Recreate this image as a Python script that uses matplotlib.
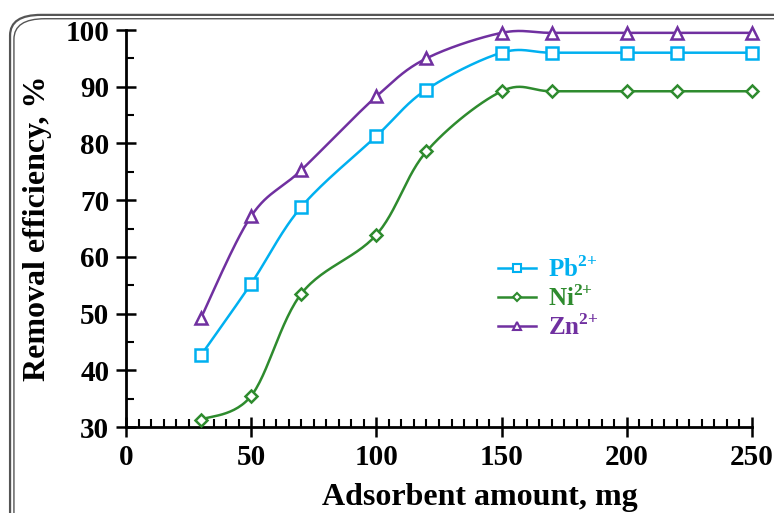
import matplotlib

matplotlib.use("Agg")
import matplotlib.pyplot as plt
import numpy as np
from matplotlib.lines import Line2D
from matplotlib.patches import FancyBboxPatch
from matplotlib.ticker import MultipleLocator

plt.rcParams["font.family"] = ["Liberation Serif", "DejaVu Serif"]
plt.rcParams["font.weight"] = "bold"
plt.rcParams["mathtext.fontset"] = "custom"
plt.rcParams["mathtext.rm"] = "Liberation Serif:bold"
plt.rcParams["mathtext.bf"] = "Liberation Serif:bold"

amount_mg = [30, 50, 70, 100, 120, 150, 170, 200, 220, 250]
pb_eff = [42.7, 55.3, 68.8, 81.3, 89.5, 96.0, 96.0, 96.0, 96.0, 96.0]
ni_eff = [31.3, 35.5, 53.5, 63.9, 78.6, 89.2, 89.2, 89.2, 89.2, 89.2]
zn_eff = [49.3, 67.2, 75.3, 88.3, 95.0, 99.5, 99.5, 99.5, 99.5, 99.5]

series = [
    ("Pb", pb_eff, "#00B0F0", "s", 9),
    ("Ni", ni_eff, "#2E8B2E", "D", 6),
    ("Zn", zn_eff, "#7030A0", "^", 9),
]


def smooth(x, y, n=30):
    # Catmull-Rom style smoothing, like a spreadsheet "smoothed line"
    p = np.column_stack([x, y]).astype(float)
    pts = [p[0]]
    for i in range(len(p) - 1):
        p0 = p[i - 1] if i > 0 else p[i]
        p3 = p[i + 2] if i + 2 < len(p) else p[i + 1]
        p1, p2 = p[i], p[i + 1]
        c1 = p1 + (p2 - p0) / 6.0
        c2 = p2 - (p3 - p1) / 6.0
        t = np.linspace(0, 1, n)[1:, None]
        seg = (1 - t) ** 3 * p1 + 3 * (1 - t) ** 2 * t * c1 + 3 * (1 - t) * t ** 2 * c2 + t ** 3 * p2
        pts.extend(seg)
    pts = np.array(pts)
    return pts[:, 0], pts[:, 1]


fig = plt.figure(figsize=(7.74, 5.13), dpi=100)

# rounded double frame around the figure
for pad, lw in [(0.0, 1.6), (0.005, 1.0)]:
    frame = FancyBboxPatch((0.013 + pad, -0.1), 1.1, 1.071 - pad * 1.5,
                           boxstyle="round,pad=0,rounding_size=0.04",
                           transform=fig.transFigure, fill=False,
                           edgecolor="#555555", linewidth=lw, zorder=0)
    fig.patches.append(frame)

ax = fig.add_axes([0.1628, 0.1676, 0.8088, 0.7739])

handles = []
for name, vals, color, marker, ms in series:
    xs, ys = smooth(amount_mg, vals)
    ax.plot(xs, ys, color=color, linewidth=1.8, clip_on=False, zorder=2)
    ax.plot(amount_mg, vals, linestyle="none", marker=marker, markersize=ms,
            markerfacecolor="white", markeredgecolor=color, markeredgewidth=1.8,
            clip_on=False, zorder=3)
    handles.append(Line2D([], [], color=color, linewidth=1.8, marker=marker,
                          markersize=ms * 0.65, markerfacecolor="white",
                          markeredgecolor=color, markeredgewidth=1.5))

ax.set_xlim(0, 250)
ax.set_ylim(30, 100)
ax.xaxis.set_major_locator(MultipleLocator(50))
ax.xaxis.set_minor_locator(MultipleLocator(5))
ax.yaxis.set_major_locator(MultipleLocator(10))
ax.yaxis.set_minor_locator(MultipleLocator(5))

for side in ["top", "right"]:
    ax.spines[side].set_visible(False)
for side in ["left", "bottom"]:
    ax.spines[side].set_linewidth(2.0)

ax.tick_params(which="major", direction="inout", length=14, width=1.8, labelsize=21, pad=5)
ax.tick_params(which="minor", direction="in", length=6, width=1.5)

ax.set_xlabel("Adsorbent amount, mg", fontsize=23, fontweight="bold")
ax.xaxis.set_label_coords(0.566, -0.14)
ax.set_ylabel("Removal efficiency, %", fontsize=23, fontweight="bold")
ax.yaxis.set_label_coords(-0.118, 0.5)

labels = [r"Pb$^{2{+}}$", r"Ni$^{2{+}}$", r"Zn$^{2{+}}$"]
leg = ax.legend(handles, labels, loc="center", bbox_to_anchor=(0.675, 0.325),
                frameon=False, fontsize=18, handlelength=1.5, handletextpad=0.5,
                labelspacing=0.12)
for text, (_, _, color, _, _) in zip(leg.get_texts(), series):
    text.set_color(color)

fig.savefig("out.png", dpi=100)
